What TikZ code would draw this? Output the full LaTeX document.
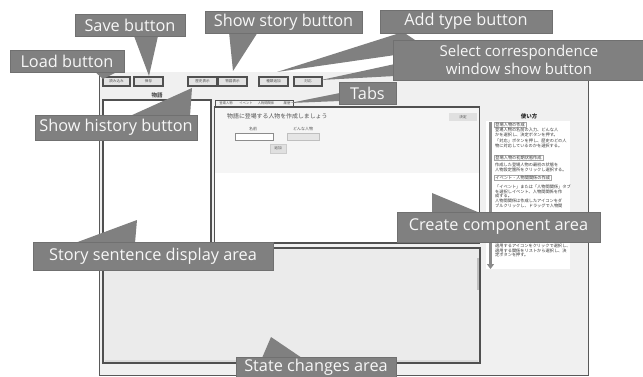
\documentclass[tikz,border=0pt]{standalone}
\usepackage{fontspec}
\setmainfont{Open Sans}
\newfontfamily\jp{Noto Sans CJK JP}
\usetikzlibrary{calc,arrows.meta}
\definecolor{callfill}{HTML}{808080}
\definecolor{callline}{HTML}{707070}
\definecolor{winbg}{HTML}{F0F0F0}
\definecolor{frame}{HTML}{505050}
\definecolor{btnfill}{HTML}{E3E3E3}
\definecolor{stategray}{HTML}{EBEBEB}
\definecolor{helpgray}{HTML}{8A8A8A}
\definecolor{jptext}{HTML}{505050}
\begin{document}
\begin{tikzpicture}[x=1pt,y=-1pt,
  callout/.style={fill=callfill, draw=callline, line width=0.6pt, text=white!94!gray,
    font=\fontsize{16.3}{18}\selectfont, inner sep=0pt, outer sep=0pt, anchor=north west, align=center},
  tail/.style={fill=callfill},
  box/.style={inner sep=0pt, outer sep=0pt, anchor=north west},
  btn/.style={box, draw=frame, line width=1.1pt, fill=btnfill, font=\jp\fontsize{3.6}{4}\selectfont, text=jptext},
  panel/.style={box, draw=frame, line width=1.1pt},
  tiny/.style={inner sep=0pt, anchor=west, font=\jp\fontsize{4.2}{4.5}\selectfont, text=black!80},
  hhead/.style={tiny, draw=black!35, fill=white, inner xsep=1.2pt, inner ysep=0.6pt},
  lbl/.style={inner sep=0pt, font=\jp\fontsize{4}{4.5}\selectfont, text=jptext}]
\useasboundingbox (0,0) rectangle (643,377);
\fill[white] (0,0) rectangle (643,377);
% window
\node[box, draw=black!65, line width=0.6pt, fill=winbg, minimum width=489pt, minimum height=311pt] (win) at (99,64) {};
\fill[white] (99.4,64.4) rectangle (587.6,72);
% buttons
\node[btn, minimum width=27pt, minimum height=9pt] (bload) at (103,77) {読み込み};
\node[btn, minimum width=29pt, minimum height=9pt] (bsave) at (134,77) {保存};
\node[btn, minimum width=29pt, minimum height=9pt] (bhist) at (188,77) {歴史表示};
\node[btn, minimum width=29pt, minimum height=9pt] (bstory) at (218,77) {物語表示};
\node[btn, minimum width=29pt, minimum height=9pt] (badd) at (259,77) {種類追加};
\node[btn, minimum width=28pt, minimum height=9pt] (bcorr) at (294,77) {対応};
% story panel
\node[lbl, font=\jp\bfseries\fontsize{5.5}{6}\selectfont] (storylbl) at (157,95) {物語};
\node[panel, fill=white, minimum width=108pt, minimum height=144pt] (storyp) at (103,100) {};
% tabs
\node[panel, line width=0.9pt, fill=winbg, minimum width=78pt, minimum height=7pt] (tabs) at (215,100) {};
\node[lbl, font=\jp\fontsize{3.3}{4}\selectfont] (tab1) at (226,103.5) {登場人物};
\node[lbl, font=\jp\fontsize{3.3}{4}\selectfont] (tab2) at (246,103.5) {イベント};
\node[lbl, font=\jp\fontsize{3.3}{4}\selectfont] (tab3) at (266,103.5) {人物間関係};
\node[lbl, font=\jp\fontsize{3.3}{4}\selectfont] (tab4) at (287,103.5) {履歴};
% create panel
\node[panel, fill=white, minimum width=265pt, minimum height=136pt] (create) at (214.5,107) {};
\fill[black!4] (215.2,107.7) rectangle (479,173);
\node[lbl, anchor=west, font=\jp\fontsize{5.9}{6.5}\selectfont] (ctitle) at (227,116) {物語に登場する人物を作成しましょう};
\node[box, fill=black!12, minimum width=28pt, minimum height=8.5pt, font=\jp\fontsize{3.6}{4}\selectfont, text=jptext] (bok) at (449,113) {決定};
\node[lbl] (lname) at (253,129) {名前};
\node[box, draw=black!45, line width=0.4pt, fill=white, minimum width=38pt, minimum height=7pt] (tname) at (235,133) {};
\node[lbl] (lkind) at (303,129) {どんな人物};
\node[box, draw=black!25, line width=0.4pt, fill=black!10, minimum width=32pt, minimum height=7pt] (ckind) at (287,133) {};
\node[box, draw=black!20, line width=0.4pt, fill=black!12, minimum width=16pt, minimum height=9pt, font=\jp\fontsize{3.6}{4}\selectfont, text=jptext] (badd2) at (270,144) {追加};
% state changes area
\node[panel, fill=stategray, minimum width=377pt, minimum height=115pt] (state) at (103,248) {};
\fill[black!14] (105,360) rectangle (478,362);
\fill[black!25] (476.5,258) rectangle (478.5,290);
% help
\node[lbl, font=\jp\bfseries\fontsize{5.5}{6}\selectfont, text=black!85] (htitle) at (529,116) {使い方};
\node[box, fill=white, minimum width=84pt, minimum height=148pt] (helpbox) at (486,121) {};
\coordinate (hatop) at (490.5,122);
\coordinate (habot) at (490.5,269);
\draw[helpgray, line width=2.6pt, -{Triangle[width=7pt,length=5pt]}] (hatop) -- (habot);
\node[hhead] (h1) at (494,124.5) {登場人物の作成};
\node[tiny] (h1a) at (495,130) {登場人物の名前の入力、どんな人};
\node[tiny] (h1b) at (495,134.5) {かを選択し、決定ボタンを押す。};
\node[tiny] (h1c) at (495,141) {「対応」ボタンを押し、歴史のどの人};
\node[tiny] (h1d) at (495,145.5) {物に対応しているのかを選択する。};
\node[hhead] (h2) at (494,157.5) {登場人物の初期状態作成};
\node[tiny] (h2a) at (495,165) {作成した登場人物の最初の状態を};
\node[tiny] (h2b) at (495,169.5) {人物設定箇所をクリックし選択する。};
\node[hhead] (h3) at (494,178) {イベント・人物間関係の作成};
\node[tiny] (h3a) at (495,187) {「イベント」または「人物間関係」タブ};
\node[tiny] (h3b) at (495,191.5) {を選択しイベント、人物間関係を作};
\node[tiny] (h3c) at (495,196) {成する。};
\node[tiny] (h3d) at (495,201) {人物間関係は作成したアイコンをダ};
\node[tiny] (h3e) at (495,205.5) {ブルクリックし、ドラッグで人物間};
\node[tiny] (h4a) at (495,246) {適用するアイコンをクリックで選択し、};
\node[tiny] (h4b) at (495,250.5) {適用する関係をリストから選択し、決};
\node[tiny] (h4c) at (495,255) {定ボタンを押す。};
% tail tips
\coordinate (tload) at (103,79);
\coordinate (tsave) at (149,76);
\coordinate (tstory) at (233,71);
\coordinate (tadd) at (277,72);
\coordinate (tcorr) at (321,80);
\coordinate (ttabs) at (290,103);
\coordinate (thist) at (192,88);
\coordinate (tsent) at (137,220);
\coordinate (tcomp) at (432,193);
\coordinate (tstate) at (271,337);
% callouts
\fill[tail] (94,71) -- (tload) -- (119,71) -- cycle;
\node[callout, minimum width=114pt, minimum height=22pt] (cload) at (10,50) {Load button};
\fill[tail] (134,36) -- (tsave) -- (158,36) -- cycle;
\node[callout, minimum width=110pt, minimum height=22pt] (csave) at (75,14) {Save button};
\fill[tail] (229,32) -- (tstory) -- (258,32) -- cycle;
\node[callout, minimum width=157pt, minimum height=22pt] (cstory) at (205,11) {Show story button};
\fill[tail] (403,32) -- (tadd) -- (430,50) -- cycle;
\node[callout, minimum width=172pt, minimum height=23pt] (cadd) at (380,10) {Add type button};
\fill[tail] (395,64) -- (tcorr) -- (395,76) -- cycle;
\node[callout, minimum width=252pt, minimum height=40pt, font=\fontsize{15}{17.5}\selectfont] (ccorr) at (393,40) {Select correspondence\\window show button};
\fill[tail] (340,93) -- (ttabs) -- (340,101) -- cycle;
\node[callout, minimum width=57pt, minimum height=22pt] (ctabs) at (339,82) {Tabs};
\fill[tail] (130,116) -- (thist) -- (190,116) -- cycle;
\node[callout, minimum width=162pt, minimum height=25pt] (chist) at (35,115) {Show history button};
\fill[tail] (75,243) -- (tsent) -- (135,243) -- cycle;
\node[callout, minimum width=240pt, minimum height=28pt] (csent) at (33,242) {Story sentence display area};
\fill[tail] (432,213) -- (tcomp) -- (480,213) -- cycle;
\node[callout, minimum width=203pt, minimum height=30pt] (ccomp) at (397,212) {Create component area};
\fill[tail] (262,358) -- (tstate) -- (302,358) -- cycle;
\node[callout, minimum width=160pt, minimum height=20pt] (cstate) at (236,357) {State changes area};
\end{tikzpicture}
\end{document}
